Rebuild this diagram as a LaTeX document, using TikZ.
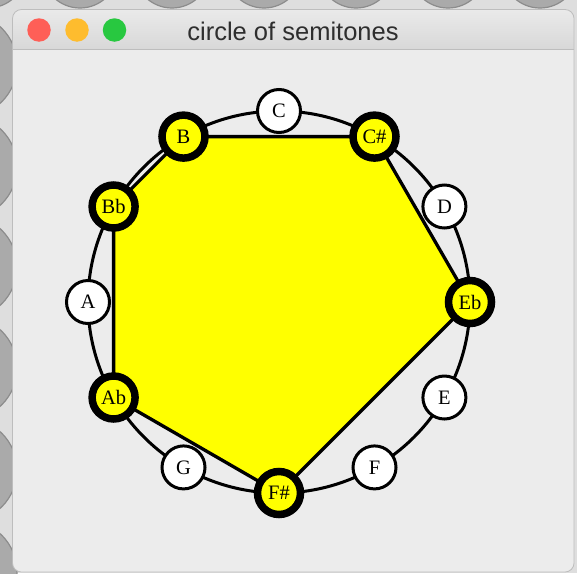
\documentclass[tikz,border=0pt]{standalone}
\usepackage{fontspec}
\setmainfont{Liberation Serif}
\newfontfamily\uifont{Liberation Sans}
\usetikzlibrary{backgrounds}
\definecolor{outerbg}{HTML}{DEDEDE}
\definecolor{tilegray}{HTML}{AAAAAA}
\definecolor{tileedge}{HTML}{8C8C8C}
\definecolor{winbody}{HTML}{ECECEC}
\definecolor{bartop}{HTML}{EAEAEA}
\definecolor{barbot}{HTML}{D8D8D8}
\definecolor{winedge}{HTML}{BDBDBD}
\definecolor{titletext}{HTML}{2E2E2E}
\definecolor{macred}{HTML}{FE5F57}
\definecolor{macyellow}{HTML}{FEBC2E}
\definecolor{macgreen}{HTML}{28C840}
\definecolor{noteyellow}{HTML}{FFFF00}
\tikzset{
  note/.style={circle, draw=black, inner sep=0pt, minimum size=43pt,
    font=\fontsize{20.5}{20.5}\selectfont, text=black},
  plain/.style={note, fill=white, line width=3pt},
  picked/.style={note, fill=noteyellow, line width=7.5pt},
  tile/.style={fill=tilegray, draw=tileedge, line width=1.2pt},
  light/.style={circle, inner sep=0pt, minimum size=23.5pt}
}
\begin{document}
\begin{tikzpicture}[x=1pt,y=-1pt]
\useasboundingbox (0,0) rectangle (577,573);
% notes
\node[plain]  (C)  at (279,111)     {C};
\node[picked] (Cs) at (374.5,136.6) {C\#};
\node[plain]  (D)  at (444.4,206.5) {D};
\node[picked] (Eb) at (470,302)     {Eb};
\node[plain]  (E)  at (444.4,397.5) {E};
\node[plain]  (F)  at (374.5,467.4) {F};
\node[picked] (Fs) at (279,493)     {F\#};
\node[plain]  (G)  at (183.5,467.4) {G};
\node[picked] (Ab) at (113.6,397.5) {Ab};
\node[plain]  (A)  at (88,302)      {A};
\node[picked] (Bb) at (113.6,206.5) {Bb};
\node[picked] (B)  at (183.5,136.6) {B};
% window title
\node[light, fill=macred]    (red)    at (39,30)  {};
\node[light, fill=macyellow] (yellow) at (77,30)  {};
\node[light, fill=macgreen]  (green)  at (114.5,30) {};
\node[text=titletext, font=\uifont\fontsize{25.5}{25.5}\selectfont] (title) at (293,31) {circle of semitones};
\begin{pgfonlayer}{background}
  \fill[outerbg] (0,0) rectangle (577,573);
  \foreach \x in {-12,80,172,264,356,448,540,632} \draw[tile] (\x,-30) circle (38);
  \foreach \y in {65,167,267,368,470,572} \draw[tile] (-35,\y) circle (52);
  \fill[winbody, rounded corners=9] (12.5,9.5) rectangle (574,572);
  \begin{scope}
    \clip[rounded corners=9] (12.5,9.5) rectangle (574,572);
    \shade[top color=bartop, bottom color=barbot] (12.5,9.5) rectangle (574,49);
  \end{scope}
  \draw[winedge, line width=1pt] (12.5,49) -- (574,49);
  \draw[winedge, line width=0.8pt, rounded corners=9] (12.5,9.5) rectangle (574,572);
  \coordinate (O) at (279,302);
  \draw[line width=3pt] (O) circle (191);
  \filldraw[fill=noteyellow, draw=black, line width=3.3pt, line join=round]
    (B.center) -- (Cs.center) -- (Eb.center) -- (Fs.center) -- (Ab.center) -- (Bb.center) -- cycle;
\end{pgfonlayer}
\end{tikzpicture}
\end{document}
